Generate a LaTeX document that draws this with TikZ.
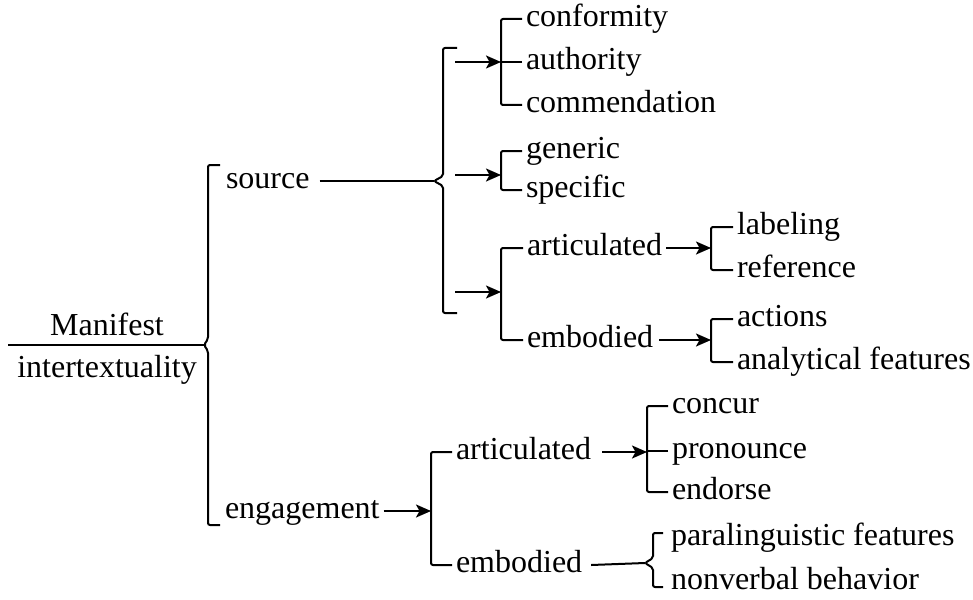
\documentclass[tikz,border=0pt]{standalone}
\usepackage{fontspec}
\setmainfont{Liberation Serif}
\usetikzlibrary{arrows.meta}
\tikzset{
  term/.style={anchor=west, inner xsep=3pt, inner ysep=0pt, text height=23pt, text depth=8.4pt},
  link/.style={-{Stealth[length=15pt,width=13pt,inset=3.5pt]}},
  brk/.style={rounded corners=2pt},
}
\begin{document}
\begin{tikzpicture}[x=1pt, y=-1pt, line width=2pt, font=\fontsize{32}{36}\selectfont]
   \useasboundingbox (0,0) rectangle (973,599);
   % root
   \node[anchor=base, inner sep=0pt] (manifest) at (107,335) {Manifest};
   \node[anchor=base, inner sep=0pt] (intertext) at (107,377) {intertextuality};
   \coordinate (rootL) at (8,345);
   \coordinate (root) at (204,345);
   \draw (rootL) -- (root);
   \draw[brk] (220,165) -- (208,165) -- (208,339) -- (root) -- (208,351) -- (208,525) -- (220,525);
   \node[term] (source) at (222,181) {source};
   \node[term] (engagement) at (221,511) {engagement};
   % leaves
   \foreach \n/\t/\x/\y in
     { conf/conformity/522/19, auth/authority/522/62, comm/commendation/522/105,
       gen/generic/522/151, spec/specific/522/190,
       art1/articulated/523/248, emb1/embodied/523/340,
       lab/labeling/733/227, ref/reference/733/270,
       act/actions/733/319, ana/analytical features/733/362,
       art2/articulated/452/452, emb2/embodied/452/565,
       conc/concur/668/406, pron/pronounce/668/451, endo/endorse/668/492,
       para/paralinguistic features/667/538
     }
     \node[term] (\n) at (\x,\y) {\t};
   \node[term, anchor=base west, text depth=0pt] (nonv) at (667,589) {nonverbal behavior};
   % source side
   \coordinate (srcb) at (434,181);
   \draw ([xshift=6pt]source.east) -- (srcb);
   \draw[brk] (457,48) -- (443,48) -- (443,176) -- (srcb) -- (443,186) -- (443,313) -- (457,313);
   \draw[brk] (conf.west) -- ++(-21,0) |- (comm.west);
   \draw (auth.west) -- ++(-21,0) coordinate (s1);
   \draw[brk] (gen.west) -- ++(-21,0) |- (spec.west);
   \draw[brk] (art1.west) -- ++(-22,0) |- (emb1.west);
   \coordinate (s2) at (501,175);
   \coordinate (s3) at (501,292);
   \foreach \i/\y in {1/62, 2/175, 3/292}
     \coordinate (t\i) at (455,\y);
   \foreach \i in {1,2,3}
     \draw[link] (t\i) -- (s\i);
   \draw[brk] (lab.west) -- ++(-22,0) coordinate (labk) |- (ref.west);
   \draw[brk] (act.west) -- ++(-22,0) coordinate (actk) |- (ana.west);
   \draw[link] (art1.east) -- (art1.east -| labk);
   \draw[link] ([xshift=2pt]emb1.east) -- (emb1.east -| actk);
   % engagement side
   \draw[brk] (art2.west) -- ++(-21,0) coordinate (art2k) |- (emb2.west);
   \draw[link] (engagement.east) -- (engagement.east -| art2k);
   \draw[brk] (conc.west) -- ++(-21,0) coordinate (conck) |- (endo.west);
   \draw (pron.west) -- ++(-21,0);
   \draw[link] ([xshift=7pt]art2.east) -- (art2.east -| conck);
   \coordinate (parab) at (645,563);
   \draw ([xshift=5pt]emb2.east) -- (parab);
   \draw[brk] (663,533) -- (653,533) -- (653,558) -- (parab) -- (653,568) -- (653,587) -- (663,587);
\end{tikzpicture}
\end{document}
